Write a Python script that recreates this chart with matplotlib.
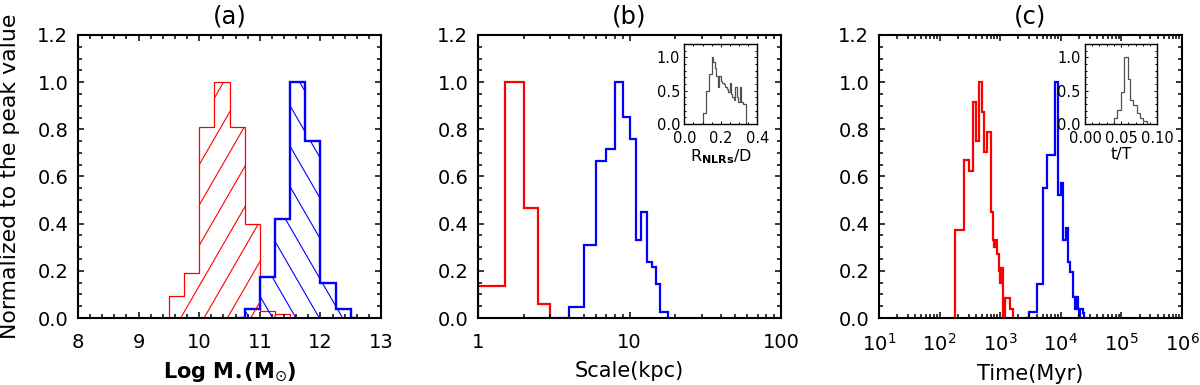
import numpy as np
import matplotlib
matplotlib.use("Agg")
import matplotlib.pyplot as plt
from matplotlib.collections import LineCollection
from matplotlib.ticker import (MultipleLocator, LogLocator, FixedLocator,
                               NullFormatter, FormatStrFormatter, FuncFormatter)

plt.rcParams['font.family'] = ['DejaVu Sans']
plt.rcParams['mathtext.fontset'] = 'dejavusans'

# ---------------- data ----------------
# (a) Log stellar mass
mass_edges_red = [9.375, 9.5, 9.75, 10.0, 10.25, 10.5, 10.75, 11.0, 11.25, 11.5]
mass_red = [0.0, 0.095, 0.19, 0.81, 1.0, 0.81, 0.40, 0.03, 0.015]
mass_edges_blue = [10.625, 10.75, 11.0, 11.25, 11.5, 11.75, 12.0, 12.25, 12.5, 12.625]
mass_blue = [0.0, 0.04, 0.175, 0.42, 1.0, 0.75, 0.15, 0.04, 0.0]

# (b) Scale (kpc)
scale_edges_red = [1.0, 1.5, 2.0, 2.5, 3.0, 3.5]
scale_red = [0.136, 1.0, 0.468, 0.061, 0.0]
scale_edges_blue = [3.5, 4, 5, 6, 7, 8, 9, 10, 11, 12, 13, 14, 15, 16, 17, 18]
scale_blue = [0.0, 0.045, 0.31, 0.667, 0.715, 1.0, 0.854, 0.759, 0.331, 0.451,
              0.237, 0.215, 0.143, 0.027, 0.027]

# (b) inset: R_NLRs / D
ratio_edges = [0.085, 0.101, 0.118, 0.135, 0.150, 0.160, 0.168, 0.176, 0.184, 0.192,
               0.200, 0.208, 0.216, 0.224, 0.232, 0.240, 0.248, 0.256, 0.264,
               0.272, 0.280, 0.288, 0.296, 0.304, 0.312, 0.320, 0.338, 0.345]
ratio_vals = [0.0, 0.16, 0.49, 0.75, 1.0, 0.93, 0.84, 0.72, 0.55, 0.72, 0.64,
              0.62, 0.60, 0.55, 0.53, 0.48, 0.62, 0.45, 0.40, 0.36, 0.55, 0.40,
              0.33, 0.55, 0.33, 0.30, 0.0]

# (c) Time (Myr)
time_edges_red = [180, 250, 300, 350, 400, 450, 500, 550, 600, 700, 750, 800, 850,
                  900, 950, 1000, 1050, 1100, 1200, 1450, 1650]
time_red = [0.373, 0.67, 0.623, 0.917, 0.752, 1.0, 0.875, 0.705, 0.79, 0.451,
            0.331, 0.30, 0.331, 0.27, 0.20, 0.15, 0.21, 0.0, 0.083, 0.04]
time_edges_blue = [2570, 3000, 4000, 5000, 6000, 8000, 9000, 10000, 11000, 12000,
                   13000, 14000, 16000, 17000, 18000, 19000, 20000, 21000, 23000, 24500]
time_blue = [0.0, 0.027, 0.143, 0.55, 0.69, 1.0, 0.52, 0.571, 0.331, 0.38, 0.239,
             0.194, 0.09, 0.04, 0.09, 0.04, 0.0, 0.04, 0.02]

# (c) inset: t / T
tT_edges = [0.0355, 0.040, 0.0446, 0.0497, 0.0543, 0.059, 0.0622, 0.0668, 0.0715,
            0.076, 0.0805, 0.0853, 0.089]
tT_vals = [0.0, 0.084, 0.208, 0.48, 1.0, 0.68, 0.357, 0.28, 0.159, 0.084, 0.05, 0.0]

titles = ["(a)", "(b)", "(c)"]
ylabel = "Normalized to the peak value"

RED = "#ff0000"
BLUE = "#0000ff"

# ---------------- figure ----------------
W, H = 12.0, 3.85
fig = plt.figure(figsize=(W, H), dpi=100)

bot, hgt, wid = 1 - 318 / 385, 283 / 385, 0.2525
axa = fig.add_axes([78 / 1200, bot, wid, hgt])
axb = fig.add_axes([478 / 1200, bot, wid, hgt])
axc = fig.add_axes([879 / 1200, bot, wid, hgt])


def style_main(ax):
    ax.set_ylim(0, 1.2)
    ax.yaxis.set_major_locator(MultipleLocator(0.2))
    ax.yaxis.set_minor_locator(MultipleLocator(0.05))
    ax.yaxis.set_major_formatter(FormatStrFormatter('%.1f'))
    ax.tick_params(which='both', direction='in', top=True, right=True, width=1.1)
    ax.tick_params(which='major', length=4.5)
    ax.tick_params(which='minor', length=2.6)
    ax.tick_params(axis='x', which='both', pad=11, labelsize=14)
    ax.tick_params(axis='y', which='both', pad=7, labelsize=14)
    for s in ax.spines.values():
        s.set_linewidth(1.5)


def style_inset(ax):
    ax.set_ylim(0, 1.2)
    ax.yaxis.set_major_locator(MultipleLocator(0.5))
    ax.yaxis.set_minor_locator(MultipleLocator(0.1))
    ax.yaxis.set_major_formatter(FormatStrFormatter('%.1f'))
    ax.tick_params(which='both', direction='in', top=True, right=True, width=0.7,
                   labelsize=10.5, pad=3)
    ax.tick_params(which='major', length=2.5)
    ax.tick_params(which='minor', length=1.5)
    ax.tick_params(axis='x', which='both', pad=5)
    for s in ax.spines.values():
        s.set_linewidth(1.0)


def hatch(ax, patch, angle_deg, spacing_px, phase_px, color, lw):
    pos = ax.get_position()
    Wp = pos.width * W * fig.dpi
    Hp = pos.height * H * fig.dpi
    x0, x1 = ax.get_xlim()
    y0, y1 = ax.get_ylim()
    th = np.deg2rad(angle_deg)
    sh = spacing_px / abs(np.sin(th))
    dx = Hp / np.tan(th)
    segs = []
    for k in range(-60, 60):
        c = phase_px + k * sh
        u0, u1 = c, c + dx
        segs.append([(x0 + u0 / Wp * (x1 - x0), y0),
                     (x0 + u1 / Wp * (x1 - x0), y1)])
    lc = LineCollection(segs, colors=color, linewidths=lw)
    ax.add_collection(lc)
    lc.set_clip_path(patch)


# ---- panel (a) ----
axa.set_xlim(8, 13)
style_main(axa)
axa.xaxis.set_major_locator(MultipleLocator(1))
axa.xaxis.set_minor_locator(MultipleLocator(0.2))
pr = axa.stairs(mass_red, mass_edges_red, fill=True, facecolor='none', edgecolor='none')
pb = axa.stairs(mass_blue, mass_edges_blue, fill=True, facecolor='none', edgecolor='none')
hatch(axa, pr, 60, 20.2, 102.7, RED, 0.8)
hatch(axa, pb, 120, 20.2, 171.3, BLUE, 0.8)
axa.stairs(mass_red, mass_edges_red, color=RED, lw=0.9)
axa.stairs(mass_blue, mass_edges_blue, color=BLUE, lw=1.7)
axa.set_xlim(8, 13)
axa.set_ylim(0, 1.2)
axa.set_xlabel(r'Log M$_{\bullet}$(M$_{\odot}$)', fontsize=15, fontweight='bold', labelpad=6)

# ---- panel (b) ----
axb.set_xscale('log')
axb.set_xlim(1, 100)
style_main(axb)
axb.xaxis.set_major_locator(LogLocator(base=10))
axb.xaxis.set_minor_locator(LogLocator(base=10, subs=np.arange(2, 10)))
axb.xaxis.set_minor_formatter(NullFormatter())
axb.xaxis.set_major_formatter(FuncFormatter(lambda v, p: '%d' % round(v)))
axb.stairs(scale_red, scale_edges_red, color=RED, lw=1.6)
axb.stairs(scale_blue, scale_edges_blue, color=BLUE, lw=1.6)
axb.set_xlim(1, 100)
axb.set_xlabel('Scale(kpc)', fontsize=15, labelpad=6)

# ---- panel (c) ----
axc.set_xscale('log')
axc.set_xlim(10, 1e6)
style_main(axc)
axc.xaxis.set_major_locator(LogLocator(base=10))
axc.xaxis.set_minor_locator(LogLocator(base=10, subs=np.arange(2, 10)))
axc.xaxis.set_minor_formatter(NullFormatter())
axc.stairs(time_red, time_edges_red, color=RED, lw=1.6)
axc.stairs(time_blue, time_edges_blue, color=BLUE, lw=1.6)
axc.set_xlim(10, 1e6)
axc.set_xlabel('Time(Myr)', fontsize=15, labelpad=6)

for ax, t in zip([axa, axb, axc], titles):
    ax.set_title(t, fontsize=17.5, pad=8)

fig.text(10 / 1200, 1 - 176.5 / 385, ylabel, rotation=90, ha='center', va='center',
         fontsize=15.8)

# ---- insets ----
ib = fig.add_axes([684.3 / 1200, 1 - 124 / 385, 73 / 1200, 80 / 385])
ib.set_xlim(0, 0.4)
style_inset(ib)
ib.xaxis.set_major_locator(MultipleLocator(0.2))
ib.xaxis.set_minor_locator(MultipleLocator(0.05))
ib.xaxis.set_major_formatter(FormatStrFormatter('%.1f'))
ib.stairs(ratio_vals, ratio_edges, color='#505050', lw=0.9)
ib.set_xlim(0, 0.4)
ib.set_xlabel(r'R$_{\mathbf{NLRs}}$/D', fontsize=11.5, labelpad=1)

ic = fig.add_axes([1085 / 1200, 1 - 124 / 385, 72.3 / 1200, 80 / 385])
ic.set_xlim(0, 0.10)
style_inset(ic)
ic.xaxis.set_major_locator(MultipleLocator(0.05))
ic.xaxis.set_minor_locator(MultipleLocator(0.01))
ic.xaxis.set_major_formatter(FormatStrFormatter('%.2f'))
ic.stairs(tT_vals, tT_edges, color='#505050', lw=0.9)
ic.set_xlim(0, 0.10)
ic.set_xlabel('t/T', fontsize=11.5, labelpad=1)

fig.savefig('out.png', dpi=100)
